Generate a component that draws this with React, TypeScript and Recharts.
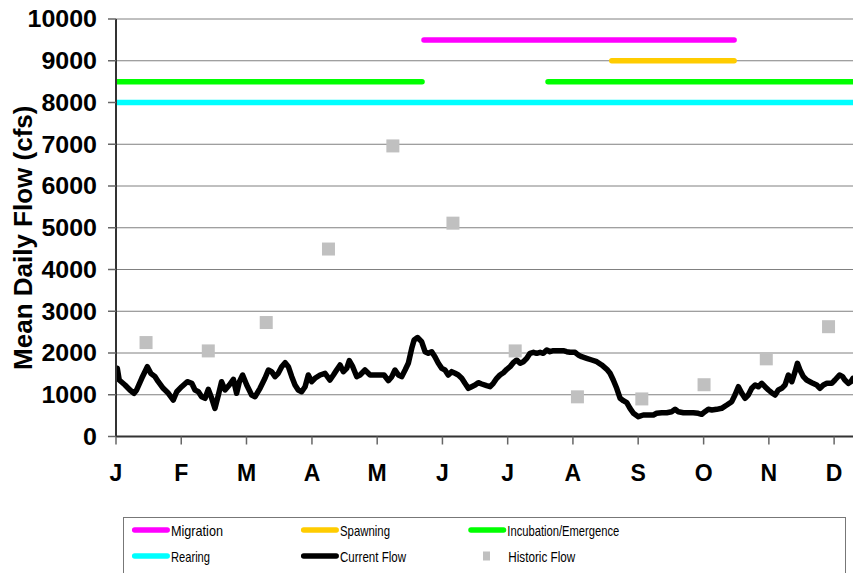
import React from 'react';
import { ComposedChart, Line, Scatter, XAxis, YAxis, CartesianGrid, Legend } from 'recharts';

const FONT = '"Liberation Sans", Arial, Helvetica, sans-serif';

// x axis: day of year (0 = Jan 1); plot is cut off in early December
const monthLabels = ['J', 'F', 'M', 'A', 'M', 'J', 'J', 'A', 'S', 'O', 'N', 'D'];
const monthTicks = [0, 30.4, 60.8, 91.3, 121.7, 152.1, 182.5, 212.9, 243.3, 273.8, 304.2, 334.6];
const xMax = 343.4;
const yTicks = [0, 1000, 2000, 3000, 4000, 5000, 6000, 7000, 8000, 9000, 10000];

// Current flow (mean daily, cfs)
const flowDays = [
  0, 0.6, 1.5, 4.2, 6.5, 8.4, 9.6, 12, 14.6, 16.2, 18.2, 19.7, 22, 24.4, 26.7, 28.3, 30.6, 33.2, 35.3, 36.8,
  38.4, 39.9, 41.5, 43, 44.6, 46.1, 47.7, 49.2, 50.8, 52.8, 54.7, 56.2, 57.5, 59, 60.9, 63.2, 64.8, 67.1,
  69.4, 71, 72.5, 74.1, 75.6, 77.2, 78.8, 80.3, 81.9, 83.4, 84.9, 86.5, 88.1, 89.6, 91.2, 92.7, 95.1, 97.4,
  99.7, 101.3, 102.8, 104.4, 105.9, 107.5, 108.7, 110.3, 112.2, 113.7, 116, 118.4, 120.7, 123, 124.9, 126.9,
  128.5, 130, 131.6, 133.1, 134.7, 136.2, 137.8, 138.9, 140.5, 142.4, 144, 145.5, 147.1, 148.6, 150.2,
  151.8, 153.3, 154.8, 156.4, 158, 159.5, 161.1, 162.6, 164.2, 165.7, 167.3, 168.8, 170.4, 172.7, 174.3,
  175.8, 177.4, 178.9, 180.5, 182.1, 183.6, 185.1, 186.7, 188.3, 189.8, 191.4, 192.9, 194.5, 196, 197.6,
  199.1, 200.7, 202.2, 203.8, 205.4, 206.9, 208.4, 210, 211.6, 213.9, 215.4, 217, 219.3, 221.7, 224, 226.3,
  228.7, 230.2, 231.7, 233.3, 234.9, 236.4, 238, 239.5, 241.1, 243.4, 245.7, 248, 250.4, 251.9, 254.3,
  256.6, 258.9, 260.5, 262, 264.4, 266.7, 269, 271.3, 272.9, 274.4, 276, 277.6, 279.9, 282.2, 284.6, 286.9,
  288.4, 290, 291.6, 293.1, 294.6, 296.2, 297.8, 299.3, 300.9, 302.4, 304, 305.5, 307.1, 308.6, 310.2,
  311.7, 313.3, 314.9, 316.4, 317.5, 318.7, 320.3, 321.8, 324.2, 326.5, 328, 329.6, 331.2, 333.5, 335,
  337.1, 338.6, 339.6, 341.2, 342.4, 343.4,
];
const flowValues = [
  1394, 1633, 1353, 1233, 1114, 1035, 1114, 1394, 1672, 1514, 1433, 1313, 1154, 1035, 874, 1073, 1193, 1313, 1274, 1114,
  1073, 953, 915, 1130, 915, 675, 994, 1313, 1114, 1233, 1370, 1035, 1313, 1473, 1233, 994, 953, 1154,
  1394, 1593, 1553, 1433, 1514, 1672, 1768, 1672, 1433, 1233, 1114, 1073, 1193, 1473, 1313, 1394, 1473, 1514,
  1353, 1473, 1593, 1713, 1553, 1633, 1816, 1672, 1433, 1473, 1593, 1473, 1473, 1473, 1473, 1337,
  1433, 1593, 1473, 1433, 1593, 1753, 2113, 2311, 2370, 2271, 2031, 1993, 2031, 1911, 1753,
  1633, 1593, 1473, 1553, 1514, 1473, 1394, 1274, 1154, 1193, 1233, 1289, 1257, 1217, 1193,
  1274, 1394, 1473, 1528, 1610, 1672, 1768, 1832, 1753, 1792, 1873, 1993, 2017, 1993, 2017,
  1993, 2072, 2031, 2055, 2055, 2055, 2055, 2031, 2017, 2017, 1952, 1911, 1873, 1832, 1792, 1713,
  1610, 1514, 1353, 1154, 915, 858, 810, 675, 556, 474, 515, 515, 515, 556, 570,
  570, 594, 651, 594, 570, 570, 570, 556, 532, 594, 651, 635, 651, 675, 754, 834,
  994, 1193, 1035, 915, 994, 1154, 1233, 1193, 1274, 1193, 1114, 1049, 994, 1114, 1154,
  1233, 1473, 1313, 1553, 1753, 1593, 1433, 1353, 1289, 1233, 1154, 1233, 1274, 1274, 1353,
  1473, 1433, 1353, 1274, 1313, 1394,
];

// Historic flow (monthly)
const historicDays = [14, 43, 70, 99, 129, 157, 186, 215, 245, 274, 303, 332];
const historicValues = [2250, 2050, 2730, 4490, 6960, 5110, 2050, 950, 900, 1240, 1860, 2630];

// Life-stage periods (start day, end day) drawn at fixed levels
const migrationPeriod = [143.5, 288];
const migrationLevel = 9500;
const spawningPeriod = [231, 288];
const spawningLevel = 9000;
const incubationPeriodA = [0, 142.6];
const incubationPeriodB = [201.3, 343.4];
const incubationLevel = 8500;
const rearingPeriod = [0, 343.4];
const rearingLevel = 8000;

const legendNames = ['Migration', 'Spawning', 'Incubation/Emergence', 'Rearing', 'Current Flow', 'Historic Flow'];
const legendColors = ['#FF00FF', '#FFCC00', '#00FF00', '#00FFFF', '#000000', '#C0C0C0'];

const flowData = flowDays.map((d, i) => ({ day: d, v: flowValues[i] }));
const historicData = historicDays.map((d, i) => ({ day: d, v: historicValues[i] }));
const seg = (p: number[], level: number) => [{ day: p[0], v: level }, { day: p[1], v: level }];
const incubationData = [
  { day: incubationPeriodA[0], v: incubationLevel },
  { day: incubationPeriodA[1], v: incubationLevel },
  { day: (incubationPeriodA[1] + incubationPeriodB[0]) / 2, v: null },
  { day: incubationPeriodB[0], v: incubationLevel },
  { day: incubationPeriodB[1], v: incubationLevel },
];

const YTick = (props: any) => {
  const { x, y, payload } = props;
  const s = String(payload.value);
  return (
    <text
      x={x}
      y={y}
      dy={8.3}
      textAnchor="end"
      fontSize={23.5}
      fontWeight="bold"
      fill="#000"
      fontFamily={FONT}
      textLength={s.length * 13.9}
      lengthAdjust="spacingAndGlyphs"
    >
      {s}
    </text>
  );
};

const XTick = (props: any) => {
  const { x, y, index } = props;
  return (
    <text x={x} y={y} dy={16.5} textAnchor="middle" fontSize={23} fontWeight="bold" fill="#000" fontFamily={FONT}>
      {monthLabels[index] ?? ''}
    </text>
  );
};

const YTitle = (props: any) => {
  const vb = props.viewBox || { x: 0, y: 19, height: 417.5 };
  const cx = 31.7;
  const cy = vb.y + vb.height / 2 + 10;
  return (
    <text
      x={cx}
      y={cy}
      transform={`rotate(-90, ${cx}, ${cy})`}
      textAnchor="middle"
      fontSize={26}
      fontWeight="bold"
      fill="#000"
      fontFamily={FONT}
    >
      Mean Daily Flow (cfs)
    </text>
  );
};

const legendTextWidths = [52, 50, 112, 39, 66, 67];

const renderLegend = () => {
  const colX = [8.7, 177.7, 345];
  const rowY = [13, 39];
  return (
    <svg width={723} height={56} style={{ display: 'block', overflow: 'hidden' }}>
      <rect x={0.5} y={0.5} width={722} height={80} fill="#fff" stroke="#777" strokeWidth={1} />
      {legendNames.map((name, i) => {
        const col = i % 3;
        const row = Math.floor(i / 3);
        const x0 = colX[col];
        const y0 = rowY[row];
        const isMarker = i === 5;
        return (
          <g key={name}>
            {isMarker ? (
              <rect x={x0 + 15} y={y0 - 4.5} width={7} height={9} fill={legendColors[i]} />
            ) : (
              <line x1={x0 + 3} y1={y0} x2={x0 + 35.5} y2={y0} stroke={legendColors[i]} strokeWidth={5.5} strokeLinecap="round" />
            )}
            <text
              x={x0 + 39.3 + (isMarker ? 1 : 0)}
              y={y0 + 5.5}
              fontSize={15}
              fill="#000"
              fontFamily={FONT}
              textLength={legendTextWidths[i]}
              lengthAdjust="spacingAndGlyphs"
            >
              {name}
            </text>
          </g>
        );
      })}
    </svg>
  );
};

const SquareShape = (props: any) => {
  const { cx, cy } = props;
  return <rect x={cx - 6.5} y={cy - 6.5} width={13} height={13} fill="#C0C0C0" />;
};

export default function App() {
  return (
    <div style={{ position: 'absolute', left: 0, top: 0, width: 853, height: 573, overflow: 'hidden', background: '#fff' }}>
      <ComposedChart width={853} height={573} margin={{ top: 19, right: 0, bottom: 0, left: 0 }}>
        <CartesianGrid vertical={false} stroke="#808080" strokeWidth={1} />
        <XAxis
          dataKey="day"
          type="number"
          domain={[0, xMax]}
          ticks={monthTicks}
          interval={0}
          height={136.5}
          tickSize={8}
          tickMargin={20}
          tick={<XTick />}
          axisLine={{ stroke: '#333', strokeWidth: 2 }}
          tickLine={{ stroke: '#666', strokeWidth: 1.5 }}
          allowDataOverflow
        />
        <YAxis
          type="number"
          domain={[0, 10000]}
          ticks={yTicks}
          interval={0}
          width={116}
          tickSize={8}
          tickMargin={11}
          tick={<YTick />}
          axisLine={{ stroke: '#333', strokeWidth: 2 }}
          tickLine={{ stroke: '#666', strokeWidth: 1.5 }}
          label={{ content: (p: any) => <YTitle {...p} /> }}
        />
        <Legend
          layout="horizontal"
          verticalAlign="middle"
          align="center"
          content={renderLegend}
          wrapperStyle={{ left: 123, top: 517, width: 723, height: 56 }}
        />
        <Line data={seg(rearingPeriod, rearingLevel)} dataKey="v" name="Rearing" stroke="#00FFFF" strokeWidth={5.5} strokeLinecap="round" dot={false} isAnimationActive={false} />
        <Line data={incubationData} dataKey="v" name="Incubation/Emergence" stroke="#00FF00" strokeWidth={5.5} strokeLinecap="round" dot={false} connectNulls={false} isAnimationActive={false} />
        <Line data={seg(spawningPeriod, spawningLevel)} dataKey="v" name="Spawning" stroke="#FFCC00" strokeWidth={5.5} strokeLinecap="round" dot={false} isAnimationActive={false} />
        <Line data={seg(migrationPeriod, migrationLevel)} dataKey="v" name="Migration" stroke="#FF00FF" strokeWidth={5.5} strokeLinecap="round" dot={false} isAnimationActive={false} />
        <Scatter data={historicData} dataKey="v" name="Historic Flow" shape={<SquareShape />} isAnimationActive={false} />
        <Line data={flowData} dataKey="v" name="Current Flow" stroke="#000" strokeWidth={5.5} strokeLinejoin="round" strokeLinecap="round" dot={false} type="linear" isAnimationActive={false} />
      </ComposedChart>
    </div>
  );
}
